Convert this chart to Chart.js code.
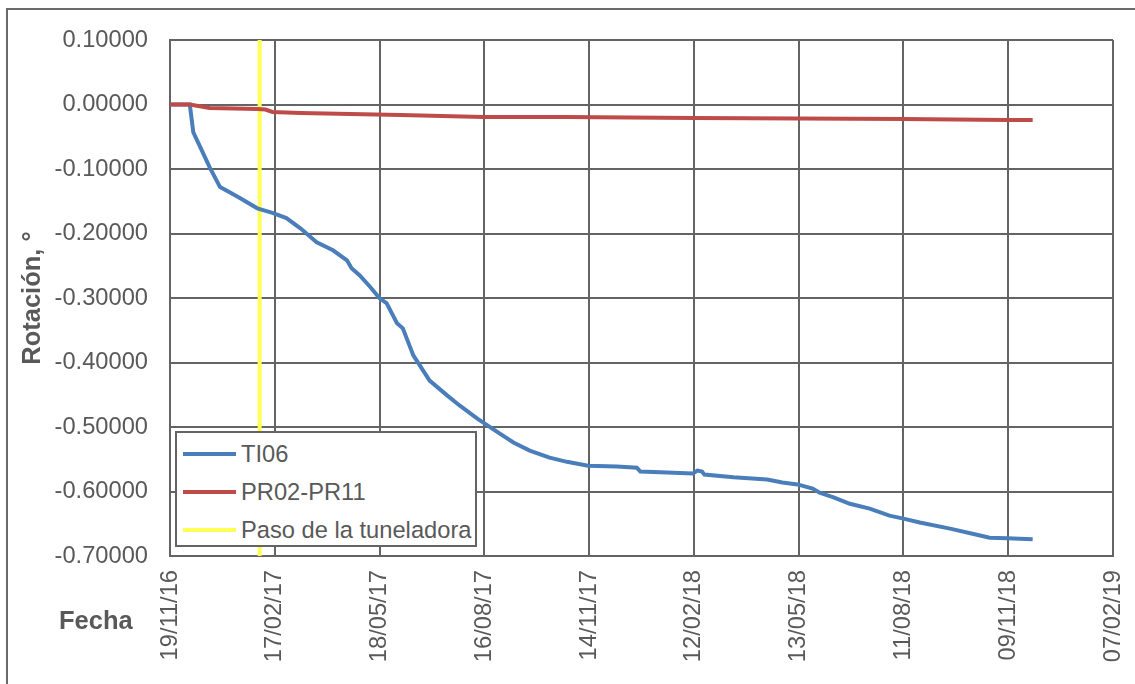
<!DOCTYPE html>
<html>
<head>
<meta charset="utf-8">
<script src="https://cdn.jsdelivr.net/npm/chart.js@4/dist/chart.umd.min.js"></script>
<style>
  body { margin: 0; background: #fff; }
  #wrap { position: relative; width: 1135px; height: 684px; overflow: hidden; }
  #frame { position: absolute; left: 6px; top: 8px; width: 1140px; height: 700px; border: 2px solid #6a6a6a; box-sizing: border-box; }
  #legend { position: absolute; left: 175px; top: 431px; width: 302px; height: 116px; background: #fff;
            border: 2px solid #646464; box-sizing: border-box; font-family: 'Liberation Sans', Arial, sans-serif;
            font-size: 23.7px; color: #595959; }
  .row { position: absolute; left: 6px; height: 26px; }
  .row .mark { position: absolute; left: 0; top: 11px; width: 53px; height: 4px; }
  .row span { position: absolute; left: 58px; top: 0; white-space: nowrap; line-height: 26px; }
  #fecha { position: absolute; left: 59px; top: 606px; font: bold 25.5px 'Liberation Sans', Arial, sans-serif; color: #595959; }
</style>
</head>
<body>
<div id="wrap">
  <canvas id="chart" width="1135" height="684"></canvas>
  <div id="frame"></div>
  <div id="legend"></div>
  <div id="fecha">Fecha</div>
</div>
<script>
"use strict";

// first reading date, x values are days after it
const START_DATE = Date.UTC(2016, 10, 19);

// TI06 inclinometer
const tiDays = [0, 17, 20, 26, 34, 43, 52, 60, 75, 88, 100, 112, 126, 140, 152, 156, 163, 172, 180, 186,
  195, 200, 209, 223, 238, 249, 264, 283, 295, 309, 326, 341, 359, 384, 401, 404, 427, 449, 453, 457,
  459, 484, 513, 526, 539, 552, 558, 570, 584, 601, 618, 630, 644, 670, 693, 704, 719, 741];
const tiValues = [0, 0, -0.043, -0.066, -0.097, -0.128, -0.137, -0.145, -0.161, -0.168, -0.176, -0.192, -0.2135, -0.226, -0.2415, -0.254, -0.265, -0.283, -0.3005, -0.308,
  -0.339, -0.347, -0.389, -0.428, -0.451, -0.467, -0.487, -0.510, -0.524, -0.5365, -0.5475, -0.554, -0.560, -0.5613, -0.563, -0.569, -0.5707, -0.5722, -0.5676, -0.569,
  -0.5738, -0.578, -0.5815, -0.586, -0.589, -0.5955, -0.602, -0.609, -0.619, -0.6266, -0.6374, -0.642, -0.648, -0.6576, -0.667, -0.6716, -0.6724, -0.674];

// PR02-PR11
const prDays = [0, 17, 34, 75, 82, 88, 112, 198, 269, 341, 449, 630, 719, 741];
const prValues = [0, 0, -0.0054, -0.007, -0.0078, -0.0116, -0.0132, -0.0163, -0.0194, -0.0194, -0.021, -0.0225, -0.024, -0.024];

// tunnel boring machine pass
const passDay = 77;

const X_MAX = 810;
const X_STEP = 90;
const Y_MIN = -0.7;
const Y_MAX = 0.1;

const SERIES = [
  { label: "TI06",                  color: "#4a7ebb", days: tiDays, values: tiValues, order: 2 },
  { label: "PR02-PR11",             color: "#be4b48", days: prDays, values: prValues, order: 1 },
  { label: "Paso de la tuneladora", color: "#ffff55", days: [passDay, passDay], values: [Y_MAX, Y_MIN], order: 3 }
];

const GRID = "#646464";
const TEXT = "#595959";
const FONT = "'Liberation Sans', Arial, sans-serif";

function fmtDate(days) {
  const d = new Date(START_DATE + days * 86400000);
  const p = n => String(n).padStart(2, "0");
  return p(d.getUTCDate()) + "/" + p(d.getUTCMonth() + 1) + "/" + p(d.getUTCFullYear() % 100);
}

const ctx = document.getElementById("chart").getContext("2d");
const chart = new Chart(ctx, {
  type: "line",
  data: {
    datasets: SERIES.map(s => ({
      label: s.label,
      data: s.days.map((d, i) => ({ x: d, y: s.values[i] })),
      borderColor: s.color,
      borderWidth: 4,
      pointRadius: 0,
      tension: 0,
      fill: false,
      order: s.order
    }))
  },
  options: {
    responsive: false,
    animation: false,
    layout: { padding: { top: 40, right: 22, left: 0, bottom: 0 } },
    plugins: { legend: { display: false }, tooltip: { enabled: false } },
    scales: {
      x: {
        type: "linear",
        min: 0,
        max: X_MAX,
        afterFit: scale => {
          scale.height = 128;
          scale.paddingLeft = 0;
          scale.paddingRight = 0;
        },
        afterBuildTicks: scale => {
          scale.ticks = [];
          for (let v = 0; v <= X_MAX; v += X_STEP) scale.ticks.push({ value: v });
        },
        ticks: {
          autoSkip: false,
          maxRotation: 90,
          minRotation: 90,
          padding: 14,
          color: TEXT,
          font: { family: FONT, size: 23.7 },
          callback: v => fmtDate(v)
        },
        grid: { color: GRID, lineWidth: 2, drawTicks: false },
        border: { color: GRID, width: 2 }
      },
      y: {
        min: Y_MIN,
        max: Y_MAX,
        afterFit: scale => { scale.width = 170; },
        ticks: {
          stepSize: 0.1,
          padding: 22,
          color: TEXT,
          font: { family: FONT, size: 23.7 },
          callback: v => (Math.abs(v) < 1e-9 ? 0 : v).toFixed(5)
        },
        grid: { color: GRID, lineWidth: 2, drawTicks: false },
        border: { color: GRID, width: 2 },
        title: {
          display: true,
          text: "Rotación, °",
          color: TEXT,
          font: { family: FONT, size: 25.5, weight: "bold" },
          padding: { top: 18, bottom: 0 }
        }
      }
    }
  }
});

// legend box sitting over the plot, built from the datasets
const legend = document.getElementById("legend");
SERIES.forEach((s, i) => {
  const row = document.createElement("div");
  row.className = "row";
  row.style.top = (8 + i * 38) + "px";
  row.innerHTML = '<div class="mark" style="background:' + s.color + '"></div><span>' + s.label + '</span>';
  legend.appendChild(row);
});
</script>
</body>
</html>
